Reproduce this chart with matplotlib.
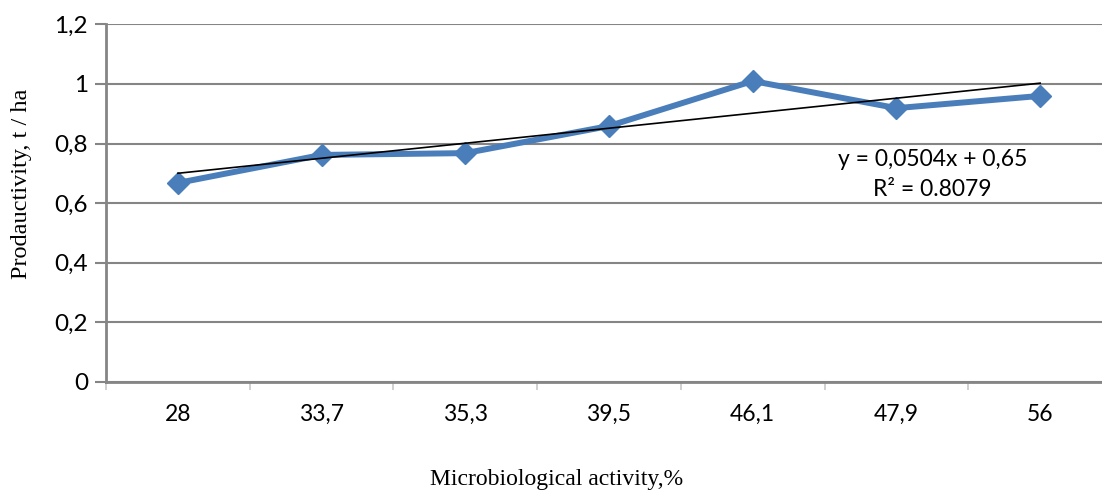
import matplotlib.pyplot as plt
import numpy as np

# microbiological activity categories and productivity values
activity = ['28', '33,7', '35,3', '39,5', '46,1', '47,9', '56']
productivity = [0.668, 0.762, 0.768, 0.859, 1.01, 0.919, 0.96]
# linear trend as printed on the chart
slope = 0.0504
intercept = 0.65
r2_text = 'R² = 0.8079'
yticks = [0, 0.2, 0.4, 0.6, 0.8, 1.0, 1.2]
ytick_labels = ['0', '0,2', '0,4', '0,6', '0,8', '1', '1,2']

grey = '#858585'
blue = '#4a7ebb'

fig = plt.figure(figsize=(11.02, 4.93), dpi=100)
# axes a touch wider than the figure: the right edge is cut off in the reference
ax = fig.add_axes([106/1102, (493-382)/493, (1112-106)/1102, (382-24.4)/493])

x = np.arange(1, len(activity)+1)
trend = slope*x + intercept
ax.plot(x, productivity, color=blue, lw=4.3, marker='D', ms=11, zorder=3)
ax.plot(x, trend, color='black', lw=1.2, zorder=4)

ax.set_xlim(0.5, len(activity)+0.5)
ax.set_ylim(0, 1.2)
ax.set_yticks(yticks)
ax.set_yticklabels(ytick_labels, family='Lato', fontsize=17.5)
ax.set_xticks(x)
ax.set_xticklabels(activity, family='Lato', fontsize=16.5)
ax.set_xticks(np.arange(0.5, len(activity)+1, 1), minor=True)
ax.tick_params(axis='x', which='major', length=0, pad=16)
ax.tick_params(axis='x', which='minor', length=6, color='#c8c8c8', width=1.2)
ax.tick_params(axis='y', length=8, color=grey, width=1.5, pad=5)
ax.grid(axis='y', color=grey, lw=1.5)
ax.set_axisbelow(True)
for s in ['top', 'right']:
    ax.spines[s].set_visible(False)
for s in ['left', 'bottom']:
    ax.spines[s].set_color(grey)
    ax.spines[s].set_linewidth(2)

ax.text(6.25, 0.745, 'y = 0,0504x + 0,65', family='Lato', fontsize=16.5, ha='center', va='center')
ax.text(6.25, 0.645, r2_text, family='Lato', fontsize=16.5, ha='center', va='center')

fig.text(22/1102, 1-184/493, 'Prodauctivity, t / ha', rotation=90, family='Liberation Serif',
         fontsize=17.5, ha='center', va='center')
fig.text(557/1102, 1-480/493, 'Microbiological activity,%', family='Liberation Serif',
         fontsize=17, ha='center', va='center')

plt.savefig('out.png', dpi=100)
plt.close()
